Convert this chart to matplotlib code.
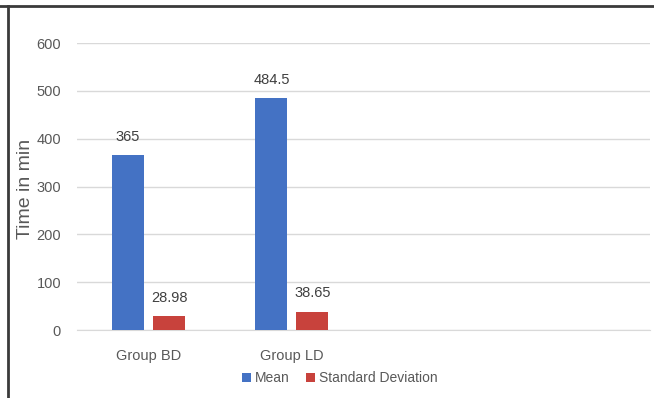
import matplotlib
matplotlib.use("Agg")
import matplotlib.pyplot as plt
from matplotlib.lines import Line2D
from matplotlib.patches import Patch
import numpy as np

# Data
categories = ["Group BD", "Group LD"]
mean_values = [365, 484.5]
sd_values = [28.98, 38.65]
mean_labels = ["365", "484.5"]
sd_labels = ["28.98", "38.65"]
series_names = ["Mean", "Standard Deviation"]
y_ticks = [0, 100, 200, 300, 400, 500, 600]

n_slots = 4  # category slots on the axis (only the first two hold data)

blue = "#4472C4"
red = "#C8423C"
text_gray = "#595959"
grid_gray = "#D9D9D9"

plt.rcParams["font.family"] = ["Liberation Sans", "DejaVu Sans"]

W, H = 654, 398
fig = plt.figure(figsize=(W / 100, H / 100), dpi=100)
fig.patch.set_facecolor("white")

ax = fig.add_axes([77 / W, (H - 330) / H, (650 - 77) / W, (330 - 43) / H])

x = np.arange(len(categories))
bw = 0.223
off = 0.143
b1 = ax.bar(x - off, mean_values, width=bw, color=blue, zorder=3)
b2 = ax.bar(x + off, sd_values, width=bw, color=red, zorder=3)

for bars, labels in ((b1, mean_labels), (b2, sd_labels)):
    for rect, lab in zip(bars, labels):
        ax.annotate(lab, (rect.get_x() + rect.get_width() / 2, rect.get_height()),
                    xytext=(0, 13), textcoords="offset points",
                    ha="center", va="center", fontsize=10.5, color="#404040")

ax.set_xlim(-0.5, n_slots - 0.5)
ax.set_ylim(0, 600)
ax.set_yticks(y_ticks)
ax.set_yticklabels([str(t) for t in y_ticks])
ax.set_xticks(x)
ax.set_xticklabels(categories)
ax.tick_params(axis="both", length=0, colors=text_gray, labelsize=10.5)
ax.tick_params(axis="y", pad=11.5)
ax.tick_params(axis="x", pad=14)
ax.grid(axis="y", color=grid_gray, linewidth=1, zorder=0)
for s in ("top", "right", "left"):
    ax.spines[s].set_visible(False)
ax.spines["bottom"].set_color(grid_gray)
ax.spines["bottom"].set_zorder(1)

fig.text(26 / W, 1 - 189 / H, "Time in min", rotation=90, ha="center", va="center",
         fontsize=14, color=text_gray)

handles = [Patch(facecolor=blue), Patch(facecolor=red)]
fig.legend(handles, series_names, loc="center", bbox_to_anchor=(340 / W, 1 - 378 / H),
           ncol=2, frameon=False, fontsize=10, handlelength=0.6, handleheight=0.6,
           handletextpad=0.3, columnspacing=1.2, labelcolor=text_gray)

# Frame lines along the top and left edges
fig.add_artist(Line2D([0, 1], [1 - 6 / H, 1 - 6 / H], transform=fig.transFigure,
                      color="#3A3A3A", linewidth=2))
fig.add_artist(Line2D([8 / W, 8 / W], [0, 1 - 6 / H], transform=fig.transFigure,
                      color="#3A3A3A", linewidth=2))

fig.savefig("out.png", dpi=100, facecolor="white")
